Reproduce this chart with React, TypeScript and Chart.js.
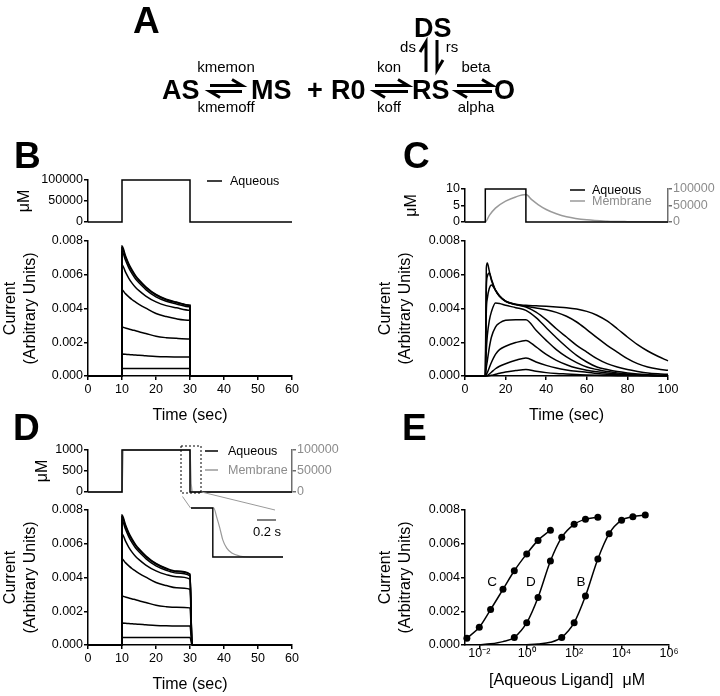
import React, { useEffect, useRef } from 'react';
import { Chart, registerables } from 'chart.js';

Chart.register(...registerables);

const FONT = "'Liberation Sans', Arial, Helvetica, sans-serif";
const BLACK = '#000000';
const AXIS_GRAY = '#6e6e6e';
const LINE_GRAY = '#9a9a9a';
const TEXT_GRAY = '#8c8c8c';

// ---------------- stimulus (top small plots) ----------------
const stepTimes60 = [0, 10, 10, 30, 30, 60];
const aqueousB = [0, 0, 100000, 100000, 0, 0];
const aqueousD = [0, 0, 1000, 1000, 0, 0];
const membraneTimesD = [0, 10, 10.3, 30, 30.3, 30.6, 60];
const membraneD = [0, 0, 100000, 100000, 20000, 0, 0];

const stepTimes100 = [0, 10, 10, 30, 30, 100];
const aqueousC = [0, 0, 10, 10, 0, 0];
const membraneTimesC = [0, 10, 12, 15, 20, 25, 30, 33, 36, 40, 45, 50, 60, 70, 80, 90, 100];
const membraneC = [0, 0, 20000, 42000, 63000, 76000, 83000, 67000, 53000, 38000, 25000, 16000, 6500, 2500, 1000, 400, 200];

// ---------------- currents, panels B and D ----------------
const pulseTimes = [10, 11, 12, 13, 14, 15, 17, 20, 23, 26, 30];
const offTimesB = [30, 60];
const offTimesD = [30.6, 60];
const traceBD1 = [0.0077, 0.00714, 0.00665, 0.00627, 0.00595, 0.0057, 0.00529, 0.00483, 0.00455, 0.00438, 0.0042];
const traceBD2 = [0.0076, 0.00705, 0.00657, 0.0062, 0.00589, 0.00565, 0.00524, 0.0048, 0.00452, 0.00435, 0.00418];
const traceBD3 = [0.0074, 0.00687, 0.00641, 0.00605, 0.00575, 0.00552, 0.00512, 0.00469, 0.00443, 0.00427, 0.0041];
const traceBD4 = [0.0066, 0.00617, 0.00579, 0.00549, 0.00525, 0.00506, 0.00474, 0.00439, 0.00417, 0.00404, 0.0039];
const traceBD5 = [0.0051, 0.00488, 0.00469, 0.00452, 0.00438, 0.00425, 0.00402, 0.0037, 0.00352, 0.00339, 0.0033];
const traceBD6 = [0.0029, 0.00284, 0.00279, 0.00273, 0.00268, 0.00262, 0.00252, 0.00235, 0.00227, 0.00223, 0.0022];
const traceBD7 = [0.0013, 0.00129, 0.00127, 0.00126, 0.00124, 0.00123, 0.0012, 0.00116, 0.00114, 0.00113, 0.00112];
const traceBD8 = [0.00045, 0.00045, 0.00045, 0.00045, 0.00045, 0.00045, 0.00045, 0.00045, 0.00045, 0.00045, 0.00045];
const tracesBD = [traceBD1, traceBD2, traceBD3, traceBD4, traceBD5, traceBD6, traceBD7, traceBD8];

// ---------------- currents, panel C ----------------
const timesC = [0, 10, 10.5, 11, 12, 13, 15, 17, 20, 25, 30, 35, 40, 45, 50, 55, 60, 65, 70, 75, 80, 85, 90, 95, 100];
const traceC1 = [0, 0, 0.0064, 0.0067, 0.0062, 0.00567, 0.00508, 0.00472, 0.00444, 0.00425, 0.00419, 0.00416, 0.00413, 0.00409, 0.00405, 0.00397, 0.00383, 0.0036, 0.00326, 0.0028, 0.00231, 0.00186, 0.00148, 0.00117, 0.0009];
const traceC2 = [0, 0, 0.0052, 0.0059, 0.0061, 0.00575, 0.00508, 0.00472, 0.00442, 0.00423, 0.00413, 0.00403, 0.00393, 0.00377, 0.00354, 0.0032, 0.00275, 0.00227, 0.00182, 0.00142, 0.00103, 0.00073, 0.00053, 0.00041, 0.00034];
const traceC3 = [0, 0, 0.0038, 0.0046, 0.0052, 0.0054, 0.0051, 0.00475, 0.00443, 0.00424, 0.00409, 0.00379, 0.00334, 0.0028, 0.00231, 0.00182, 0.00142, 0.00103, 0.00073, 0.00053, 0.00038, 0.00027, 0.00018, 0.00013, 0.0001];
const traceC4 = [0, 0, 0.0015, 0.0024, 0.0033, 0.0038, 0.00433, 0.0043, 0.00419, 0.00405, 0.00389, 0.00346, 0.00286, 0.00227, 0.00172, 0.00122, 0.00083, 0.00053, 0.00038, 0.00026, 0.00018, 0.00012, 0.00008, 0.00005, 0.00004];
const traceC5 = [0, 0, 0.0005, 0.0009, 0.0017, 0.0023, 0.0029, 0.00314, 0.0033, 0.00334, 0.00334, 0.00271, 0.00211, 0.00156, 0.00113, 0.00079, 0.00053, 0.00038, 0.00026, 0.00018, 0.00012, 0.00008, 0.00005, 0.00003, 0.00002];
const traceC6 = [0, 0, 0.0001, 0.0002, 0.0005, 0.0008, 0.00128, 0.00156, 0.00176, 0.00198, 0.00211, 0.00172, 0.00128, 0.00093, 0.00067, 0.00047, 0.00034, 0.00025, 0.00018, 0.00012, 0.00008, 0.00006, 0.00004, 0.00003, 0.00002];
const traceC7 = [0, 0, 0, 0.00003, 0.00012, 0.00022, 0.00043, 0.00058, 0.00073, 0.00093, 0.00107, 0.00083, 0.00063, 0.00047, 0.00036, 0.00028, 0.00022, 0.00015, 0.0001, 0.00007, 0.00005, 0.00004, 0.00003, 0.00002, 0.00002];
const traceC8 = [0, 0, 0, 0, 0.00002, 0.00004, 0.0001, 0.00016, 0.00024, 0.00032, 0.00038, 0.00028, 0.0002, 0.00015, 0.00012, 0.00009, 0.00006, 0.00004, 0.00003, 0.00002, 0.00002, 0.00001, 0.00001, 0, 0];
const tracesC = [traceC1, traceC2, traceC3, traceC4, traceC5, traceC6, traceC7, traceC8];

// ---------------- inset of panel D (seconds after washout) ----------------
const insetTimesAq = [-0.23, 0, 0, 0.74];
const insetAqueous = [1, 1, 0, 0];
const insetTimesMem = [-0.23, 0.01, 0.04, 0.074, 0.105, 0.147, 0.2, 0.284, 0.39, 0.74];
const insetMembrane = [1, 1, 0.82, 0.59, 0.35, 0.18, 0.08, 0.02, 0, 0];

// ---------------- panel E : concentration-response ----------------
const concC = [0.003, 0.01, 0.03, 0.1, 0.3, 1, 3, 10];
const peakC = [0.0004, 0.00105, 0.0021, 0.0033, 0.0044, 0.0054, 0.0062, 0.0068];
const concD = [0.3, 1, 3, 10, 30, 100, 300, 1000];
const peakD = [0.00045, 0.00132, 0.00282, 0.00498, 0.00638, 0.00715, 0.00745, 0.00757];
const concB = [30, 100, 300, 1000, 3000, 10000, 30000, 100000];
const peakB = [0.00045, 0.00132, 0.0029, 0.0051, 0.0066, 0.0074, 0.0076, 0.0077];
const tailConcD = [0.01, 0.03, 0.1];
const tailPeakD = [0.00002, 0.00007, 0.0002];
const tailConcB = [1, 3, 10];
const tailPeakB = [0.00002, 0.00006, 0.00016];
const eTickValues = [0.01, 1, 100, 10000, 1000000];
const eTickLabels = ['10\u207B\u00B2', '10\u2070', '10\u00B2', '10\u2074', '10\u2076'];
const eCurveNames = ['C', 'D', 'B'];
const eCurveNameConc = [0.035, 1.5, 195];
const eCurveNameCur = [0.00373, 0.00373, 0.00373];

// ---------------- helpers ----------------
const tickFont = { family: FONT, size: 12.5 };
const titleFont = { family: FONT, size: 16 };

const pts = (xs: number[], ys: number[]) => xs.map((x, i) => ({ x, y: ys[i] }));

function lineDs(xs: number[], ys: number[], color: string, extra: any = {}) {
  return {
    data: pts(xs, ys),
    borderColor: color,
    backgroundColor: color,
    borderWidth: 1.5,
    pointRadius: 0,
    fill: false,
    clip: false,
    ...extra,
  };
}

function yScale(o: any) {
  const color = o.color ?? BLACK;
  return {
    type: o.type ?? 'linear',
    position: o.pos ?? 'left',
    min: o.min,
    max: o.max,
    afterFit: (s: any) => {
      s.width = o.width;
      s.paddingTop = 0;
      s.paddingBottom = 0;
    },
    ticks: {
      stepSize: o.step,
      callback: (v: any) => o.fmt(Number(v)),
      font: tickFont,
      color: o.textColor ?? color,
      padding: 1,
      autoSkip: false,
    },
    grid: { display: true, drawOnChartArea: false, drawTicks: true, tickLength: 4, color, lineWidth: 1.5 },
    border: { display: true, color, width: 1.5 },
    title: o.title
      ? { display: true, text: o.title, font: titleFont, color: BLACK, padding: { top: o.titlePad ?? 0, bottom: 0 } }
      : { display: false },
  };
}

function xScale(o: any) {
  return {
    type: 'linear',
    position: 'bottom',
    min: o.min,
    max: o.max,
    afterFit: (s: any) => {
      s.height = o.height;
      s.paddingLeft = 0;
      s.paddingRight = 0;
    },
    ticks: { stepSize: o.step, font: tickFont, color: BLACK, padding: 2, maxRotation: 0, autoSkip: false },
    grid: { display: true, drawOnChartArea: false, drawTicks: true, tickLength: 4, color: BLACK, lineWidth: 1.5 },
    border: { display: true, color: BLACK, width: 1.5 },
    title: { display: true, text: o.title, font: titleFont, color: BLACK, padding: { top: 0, bottom: 0 } },
  };
}

function baseOptions(padding: any, scales: any) {
  return {
    responsive: false,
    maintainAspectRatio: false,
    animation: false,
    events: [],
    layout: { padding },
    plugins: { legend: { display: false }, tooltip: { enabled: false }, title: { display: false } },
    scales,
  };
}

const fmtInt = (v: number) => String(Math.round(v));
const fmt3 = (v: number) => v.toFixed(3);
const currentTitle = ['Current', '(Arbitrary Units)'];

// ---------------- chart factories ----------------
const makeBTop = () => ({
  type: 'line',
  data: { datasets: [lineDs(stepTimes60, aqueousB, BLACK)] },
  options: baseOptions({ left: 0, top: 10, right: 10, bottom: 4 }, {
    x: { type: 'linear', display: false, min: 0, max: 60 },
    y: yScale({ width: 88, min: 0, max: 100000, step: 50000, fmt: fmtInt, title: '\u03BCM', titlePad: 15.4 }),
  }),
});

const makeCTop = () => ({
  type: 'line',
  data: {
    datasets: [
      lineDs(stepTimes100, aqueousC, BLACK),
      lineDs(membraneTimesC, membraneC, LINE_GRAY, { yAxisID: 'y1', cubicInterpolationMode: 'monotone' }),
    ],
  },
  options: baseOptions({ left: 0, top: 10, right: 0, bottom: 4 }, {
    x: { type: 'linear', display: false, min: 0, max: 100 },
    y: yScale({ width: 85, min: 0, max: 10, step: 5, fmt: fmtInt, title: '\u03BCM', titlePad: 22.4 }),
    y1: yScale({ pos: 'right', width: 52, min: 0, max: 100000, step: 50000, fmt: fmtInt, color: AXIS_GRAY, textColor: TEXT_GRAY }),
  }),
});

const makeDTop = () => ({
  type: 'line',
  data: {
    datasets: [
      lineDs(stepTimes60, aqueousD, BLACK),
      lineDs(membraneTimesD, membraneD, LINE_GRAY, { yAxisID: 'y1' }),
    ],
  },
  options: baseOptions({ left: 0, top: 10, right: 0, bottom: 4 }, {
    x: { type: 'linear', display: false, min: 0, max: 60 },
    y: yScale({ width: 88, min: 0, max: 1000, step: 500, fmt: fmtInt, title: '\u03BCM', titlePad: 33.4 }),
    y1: yScale({ pos: 'right', width: 50, min: 0, max: 100000, step: 50000, fmt: fmtInt, color: AXIS_GRAY, textColor: TEXT_GRAY }),
  }),
});

const makeCurrents60 = (offTimes: number[]) => () => ({
  type: 'line',
  data: {
    datasets: tracesBD.map((tr) =>
      lineDs([0, 10, ...pulseTimes, ...offTimes], [0, 0, ...tr, 0, 0], BLACK, { cubicInterpolationMode: 'monotone' })
    ),
  },
  options: baseOptions({ left: 0, top: 10, right: 10, bottom: 0 }, {
    x: xScale({ height: 49, min: 0, max: 60, step: 10, title: 'Time (sec)' }),
    y: yScale({ width: 88, min: 0, max: 0.008, step: 0.002, fmt: fmt3, title: currentTitle, titlePad: 1.4 }),
  }),
});

const makeCBottom = () => ({
  type: 'line',
  data: {
    datasets: tracesC.map((tr) => lineDs(timesC, tr, BLACK, { cubicInterpolationMode: 'monotone' })),
  },
  options: baseOptions({ left: 0, top: 10, right: 12, bottom: 0 }, {
    x: xScale({ height: 49, min: 0, max: 100, step: 20, title: 'Time (sec)' }),
    y: yScale({ width: 90, min: 0, max: 0.008, step: 0.002, fmt: fmt3, title: currentTitle, titlePad: 1.4 }),
  }),
});

const makeInset = () => ({
  type: 'line',
  data: {
    datasets: [
      lineDs(insetTimesAq, insetAqueous, BLACK, { borderWidth: 1.4 }),
      lineDs(insetTimesMem, insetMembrane, LINE_GRAY, { borderWidth: 1.2, cubicInterpolationMode: 'monotone' }),
    ],
  },
  options: baseOptions({ left: 6, top: 8, right: 5, bottom: 5 }, {
    x: { type: 'linear', display: false, min: -0.23, max: 0.74 },
    y: { type: 'linear', display: false, min: 0, max: 1 },
  }),
});

const curveNamePlugin = {
  id: 'curveNames',
  afterDatasetsDraw(chart: any) {
    const { ctx, scales } = chart;
    ctx.save();
    ctx.font = `13.5px ${FONT}`;
    ctx.fillStyle = BLACK;
    ctx.textAlign = 'center';
    ctx.textBaseline = 'middle';
    eCurveNames.forEach((n, i) => {
      ctx.fillText(n, scales.x.getPixelForValue(eCurveNameConc[i]), scales.y.getPixelForValue(eCurveNameCur[i]));
    });
    ctx.restore();
  },
};

const makeE = () => {
  const curve = (xs: number[], ys: number[]) => lineDs(xs, ys, BLACK, { cubicInterpolationMode: 'monotone' });
  const marks = (xs: number[], ys: number[]) =>
    lineDs(xs, ys, BLACK, { showLine: false, pointRadius: 3.5, pointBorderWidth: 0, pointBackgroundColor: BLACK });
  return {
    type: 'line',
    data: {
      datasets: [
        curve(concC, peakC),
        curve([...tailConcD, ...concD], [...tailPeakD, ...peakD]),
        curve([...tailConcB, ...concB], [...tailPeakB, ...peakB]),
        marks(concC, peakC),
        marks(concD, peakD),
        marks(concB, peakB),
      ],
    },
    options: baseOptions({ left: 0, top: 10, right: 16, bottom: 0 }, {
      x: {
        type: 'logarithmic',
        position: 'bottom',
        min: 0.0025,
        max: 1000000,
        afterBuildTicks: (s: any) => {
          s.ticks = eTickValues.map((v) => ({ value: v }));
        },
        afterFit: (s: any) => {
          s.height = 45;
          s.paddingLeft = 0;
          s.paddingRight = 0;
        },
        ticks: {
          callback: (_v: any, i: number) => eTickLabels[i],
          font: tickFont,
          color: BLACK,
          padding: -3,
          maxRotation: 0,
          autoSkip: false,
        },
        grid: { display: true, drawOnChartArea: false, drawTicks: true, tickLength: 4, color: BLACK, lineWidth: 1.5 },
        border: { display: true, color: BLACK, width: 1.5 },
        title: { display: true, text: '[Aqueous Ligand]  \u03BCM', font: titleFont, color: BLACK, padding: { top: 0, bottom: 0 } },
      },
      y: yScale({ width: 90, min: 0, max: 0.008, step: 0.002, fmt: fmt3, title: currentTitle, titlePad: 1.4 }),
    }),
    plugins: [curveNamePlugin],
  };
};

// ---------------- components ----------------
type BoxProps = { x: number; y: number; w: number; h: number; make: () => any };

function ChartBox({ x, y, w, h, make }: BoxProps) {
  const ref = useRef<HTMLCanvasElement | null>(null);
  useEffect(() => {
    if (!ref.current) return;
    const chart = new Chart(ref.current, make());
    return () => chart.destroy();
  }, []);
  return (
    <div style={{ position: 'absolute', left: x, top: y, width: w, height: h }}>
      <canvas ref={ref} width={w} height={h} style={{ width: w, height: h, display: 'block' }} />
    </div>
  );
}

function HHarpoons({ x1, x2, yt, yb }: { x1: number; x2: number; yt: number; yb: number }) {
  return (
    <g stroke={BLACK} strokeWidth={3} fill="none" strokeLinecap="butt" strokeLinejoin="miter">
      <path d={`M ${x1} ${yt} L ${x2} ${yt} L ${x2 - 10} ${yt - 6}`} />
      <path d={`M ${x2} ${yb} L ${x1} ${yb} L ${x1 + 10} ${yb + 6}`} />
    </g>
  );
}

function Overlay() {
  const legendFont = { fontFamily: FONT, fontSize: 12.5 };
  return (
    <svg width={720} height={696} style={{ position: 'absolute', left: 0, top: 0, pointerEvents: 'none' }}>
      {/* panel letters */}
      <g fontFamily={FONT} fontWeight={700} fontSize={37} fill={BLACK}>
        <text x={133} y={33}>A</text>
        <text x={14} y={168}>B</text>
        <text x={403} y={168}>C</text>
        <text x={13} y={440}>D</text>
        <text x={402} y={440}>E</text>
      </g>
      {/* kinetic scheme */}
      <g fontFamily={FONT} fontWeight={700} fontSize={27} fill={BLACK}>
        <text x={162} y={99}>AS</text>
        <text x={251} y={99}>MS</text>
        <text x={307} y={99}>+</text>
        <text x={331} y={99}>R0</text>
        <text x={412} y={99}>RS</text>
        <text x={494} y={99}>O</text>
        <text x={414} y={37}>DS</text>
      </g>
      <g fontFamily={FONT} fontSize={15} fill={BLACK} textAnchor="middle">
        <text x={226} y={72}>kmemon</text>
        <text x={226} y={112}>kmemoff</text>
        <text x={389} y={72}>kon</text>
        <text x={389} y={112}>koff</text>
        <text x={476} y={72}>beta</text>
        <text x={476} y={112}>alpha</text>
        <text x={408} y={52}>ds</text>
        <text x={452} y={52}>rs</text>
      </g>
      <HHarpoons x1={210} x2={242} yt={85.5} yb={91.5} />
      <HHarpoons x1={375} x2={408} yt={85.5} yb={91.5} />
      <HHarpoons x1={457} x2={492} yt={85.5} yb={91.5} />
      <g stroke={BLACK} strokeWidth={3} fill="none">
        <path d="M 426 72 L 426 42 L 420 52" />
        <path d="M 437 40 L 437 70 L 443 60" />
      </g>
      {/* legends */}
      <g {...legendFont}>
        <line x1={207} y1={181} x2={222} y2={181} stroke={BLACK} strokeWidth={1.5} />
        <text x={230} y={185.4} fill={BLACK}>Aqueous</text>

        <line x1={570} y1={190} x2={585} y2={190} stroke={BLACK} strokeWidth={1.5} />
        <text x={592} y={194.4} fill={BLACK}>Aqueous</text>
        <line x1={570} y1={201} x2={585} y2={201} stroke={LINE_GRAY} strokeWidth={1.5} />
        <text x={592} y={205.4} fill={TEXT_GRAY}>Membrane</text>

        <line x1={205} y1={451} x2={218} y2={451} stroke={BLACK} strokeWidth={1.5} />
        <text x={228} y={455.4} fill={BLACK}>Aqueous</text>
        <line x1={205} y1={470} x2={218} y2={470} stroke={LINE_GRAY} strokeWidth={1.5} />
        <text x={228} y={474.4} fill={TEXT_GRAY}>Membrane</text>
      </g>
      {/* zoom box and connectors for panel D inset */}
      <rect x={181} y={446} width={20} height={47} fill="none" stroke={BLACK} strokeWidth={1} strokeDasharray="2 2" />
      <line x1={182.5} y1={496.5} x2={190.5} y2={508} stroke={LINE_GRAY} strokeWidth={1} />
      <line x1={201.5} y1={492} x2={275} y2={510} stroke={LINE_GRAY} strokeWidth={1} />
      <line x1={257} y1={520} x2={276} y2={520} stroke={BLACK} strokeWidth={1} />
      <text x={267} y={536} fontFamily={FONT} fontSize={13} textAnchor="middle" fill={BLACK}>0.2 s</text>
    </svg>
  );
}

export default function App() {
  return (
    <div style={{ position: 'absolute', left: 0, top: 0, width: 720, height: 696, background: '#ffffff', overflow: 'hidden' }}>
      <ChartBox x={0} y={170} w={302} h={56} make={makeBTop} />
      <ChartBox x={0} y={231} w={302} h={194} make={makeCurrents60(offTimesB)} />
      <ChartBox x={380} y={179} w={340} h={47} make={makeCTop} />
      <ChartBox x={375} y={231} w={305} h={194} make={makeCBottom} />
      <ChartBox x={0} y={440} w={342} h={56} make={makeDTop} />
      <ChartBox x={0} y={500} w={302} h={194} make={makeCurrents60(offTimesD)} />
      <ChartBox x={185} y={500} w={103} h={62} make={makeInset} />
      <ChartBox x={375} y={500} w={310} h={190} make={makeE} />
      <Overlay />
    </div>
  );
}
